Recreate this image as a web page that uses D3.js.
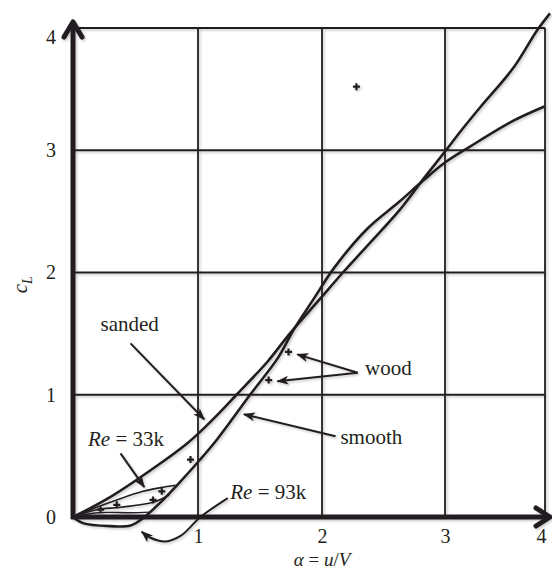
<!DOCTYPE html>
<html>
<head>
<meta charset="utf-8">
<script src="https://cdn.jsdelivr.net/npm/d3@7"></script>
<style>
  body { margin: 0; background: #fff; }
  text { font-family: "Liberation Serif", "DejaVu Serif", serif; fill: #231f20; }
</style>
</head>
<body>
<script>
// lift coefficient vs spin ratio
var sanded = [[0,0],[0.3,0.165],[0.7,0.44],[0.91,0.6],[1.0,0.68],[1.18,0.86],[1.31,1.0],
  [1.56,1.27],[1.74,1.50],[1.98,1.78],[2.17,2.0],[2.36,2.21],[2.63,2.51],[2.82,2.76],
  [3.0,2.99],[3.17,3.17],[3.35,3.35],[3.68,3.67],[3.92,3.98],[4.05,4.12]];
var smooth = [[0,0],[0.08,-0.05],[0.3,-0.075],[0.46,-0.07],[0.56,-0.01],[0.7,0.12],[0.85,0.28],
  [1.0,0.45],[1.15,0.63],[1.42,1.0],[1.65,1.31],[1.77,1.53],[1.93,1.78],[2.1,2.04],
  [2.37,2.36],[2.63,2.58],[2.82,2.75],[3.0,2.9],[3.25,3.03],[3.68,3.24],[4.0,3.36]];
var re33Upper = [[0,0],[0.19,0.08],[0.35,0.14],[0.56,0.21],[0.7,0.24],[0.82,0.26]];
var re33Lower = [[0,0],[0.19,0.06],[0.38,0.08],[0.64,0.12],[0.77,0.18]];
var nearAxis = [[0,0],[0.2,0.035],[0.45,0.035],[0.62,0.04]];
var points = [[0.22,0.06],[0.35,0.1],[0.64,0.14],[0.71,0.21],[0.94,0.47],[1.57,1.12],[1.73,1.35],[2.28,3.52]];

var xTicks = [1,2,3,4];
var yTicks = [0,1,2,3,4];

// annotations: text anchor and arrows in data units
var labels = [
  {t: "sanded", at: [0.22,1.52]},
  {t: "wood", at: [2.35,1.16]},
  {t: "smooth", at: [2.15,0.6]},
  {t: "Re", t2: " = 33k", at: [0.12,0.58]},
  {t: "Re", t2: " = 93k", at: [1.26,0.15]}
];
var arrows = [
  [[0.46,1.42],[1.05,0.8]],
  [[2.29,1.18],[1.8,1.33]],
  [[2.29,1.18],[1.64,1.11]],
  [[2.11,0.66],[1.37,0.84]],
  [[0.38,0.52],[0.57,0.245]]
];
var curvedArrow = [[1.24,0.155],[1.02,0],[0.86,-0.155],[0.74,-0.2],[0.62,-0.17],[0.55,-0.12]];

var width = 552, height = 570;
var ink = "#231f20";

var x = d3.scaleLinear().domain([0,1,2,3,4]).range([73,198,322,445,545]);
var y = d3.scaleLinear().domain([0,4]).range([517,28]);

var svg = d3.select("body").append("svg")
    .attr("width", width)
    .attr("height", height);

var defs = svg.append("defs");
defs.append("filter").attr("id", "shadow")
    .attr("x", "-10%").attr("y", "-10%").attr("width", "120%").attr("height", "120%")
  .append("feDropShadow")
    .attr("dx", 1.5).attr("dy", 1.5).attr("stdDeviation", 1.2)
    .attr("flood-color", "#000").attr("flood-opacity", 0.22);

defs.append("marker").attr("id", "barb")
    .attr("viewBox", "0 -5 12 10")
    .attr("refX", 11).attr("refY", 0)
    .attr("markerWidth", 12).attr("markerHeight", 10)
    .attr("markerUnits", "userSpaceOnUse")
    .attr("orient", "auto")
  .append("path")
    .attr("d", "M0,-4.5L12,0L0,4.5L3,0Z")
    .attr("fill", ink);

var g = svg.append("g").attr("filter", "url(#shadow)");

// grid
g.append("g").selectAll("line")
    .data(xTicks)
  .enter().append("line")
    .attr("x1", function(d) { return x(d); })
    .attr("x2", function(d) { return x(d); })
    .attr("y1", y(4))
    .attr("y2", y(0))
    .attr("stroke", ink)
    .attr("stroke-width", 1.8);

g.append("g").selectAll("line")
    .data(yTicks.slice(1))
  .enter().append("line")
    .attr("x1", x(0))
    .attr("x2", x(4))
    .attr("y1", function(d) { return y(d); })
    .attr("y2", function(d) { return y(d); })
    .attr("stroke", ink)
    .attr("stroke-width", 1.8);

// curves
var line = d3.line()
    .x(function(d) { return x(d[0]); })
    .y(function(d) { return y(d[1]); })
    .curve(d3.curveCatmullRom.alpha(0.5));

[[re33Upper, 1.6], [re33Lower, 1.6], [nearAxis, 1.4], [sanded, 2.6], [smooth, 2.6]].forEach(function(s) {
  g.append("path")
      .attr("d", line(s[0]))
      .attr("fill", "none")
      .attr("stroke", ink)
      .attr("stroke-width", s[1])
      .attr("stroke-linejoin", "round");
});

// axes (thick, with arrow heads)
g.append("line")
    .attr("x1", x(0)).attr("y1", y(0) + 2)
    .attr("x2", x(0)).attr("y2", 24)
    .attr("stroke", ink).attr("stroke-width", 5);
g.append("path")
    .attr("d", "M" + (x(0) - 9) + ",37L" + x(0) + ",22L" + (x(0) + 9) + ",37")
    .attr("fill", "none").attr("stroke", ink).attr("stroke-width", 5)
    .attr("stroke-linejoin", "round").attr("stroke-linecap", "round");
g.append("line")
    .attr("x1", x(0) - 2).attr("y1", y(0))
    .attr("x2", 548).attr("y2", y(0))
    .attr("stroke", ink).attr("stroke-width", 5);
g.append("path")
    .attr("d", "M536," + (y(0) - 9) + "L550," + y(0) + "L536," + (y(0) + 9))
    .attr("fill", "none").attr("stroke", ink).attr("stroke-width", 5)
    .attr("stroke-linejoin", "round").attr("stroke-linecap", "round");

// data points
g.append("g").selectAll("path")
    .data(points)
  .enter().append("path")
    .attr("transform", function(d) { return "translate(" + x(d[0]) + "," + y(d[1]) + ")"; })
    .attr("d", "M-3.5,0H3.5M0,-3.5V3.5")
    .attr("stroke", ink)
    .attr("stroke-width", 2.2);

// annotation arrows
g.append("g").selectAll("path")
    .data(arrows)
  .enter().append("path")
    .attr("d", function(d) { return d3.line().x(function(p) { return x(p[0]); }).y(function(p) { return y(p[1]); })(d); })
    .attr("fill", "none")
    .attr("stroke", ink)
    .attr("stroke-width", 2)
    .attr("marker-end", "url(#barb)");

g.append("path")
    .attr("d", line(curvedArrow))
    .attr("fill", "none")
    .attr("stroke", ink)
    .attr("stroke-width", 2)
    .attr("marker-end", "url(#barb)");

// annotation text
var lab = svg.append("g").selectAll("text")
    .data(labels)
  .enter().append("text")
    .attr("x", function(d) { return x(d.at[0]); })
    .attr("y", function(d) { return y(d.at[1]); })
    .style("font-size", "21px");
lab.append("tspan")
    .style("font-style", function(d) { return d.t2 ? "italic" : "normal"; })
    .text(function(d) { return d.t; });
lab.append("tspan")
    .text(function(d) { return d.t2 || ""; });

// tick labels
var yAxis = svg.append("g")
    .attr("transform", "translate(" + x(0) + ",0)")
    .call(d3.axisLeft(y).tickValues(yTicks).tickFormat(d3.format("d")).tickSize(0).tickPadding(17));
var xAxis = svg.append("g")
    .attr("transform", "translate(0," + y(0) + ")")
    .call(d3.axisBottom(x).tickValues(xTicks).tickFormat(d3.format("d")).tickSize(0).tickPadding(12));
[yAxis, xAxis].forEach(function(a) {
  a.select(".domain").remove();
  a.selectAll("text")
      .style("font-family", "'Liberation Serif', serif")
      .style("font-size", "20px")
      .attr("fill", ink);
});
yAxis.selectAll(".tick").filter(function(d) { return d === 4; })
    .select("text").attr("dy", "0.75em");
xAxis.selectAll(".tick").filter(function(d) { return d === 4; })
    .select("text").attr("dx", "-0.2em");

// axis titles
var yl = svg.append("text")
    .attr("transform", "translate(27," + y(1.9) + ") rotate(-90)")
    .attr("text-anchor", "middle")
    .style("font-size", "21px");
yl.append("tspan").style("font-style", "italic").text("c");
yl.append("tspan").attr("dy", 5).style("font-size", "14px").style("font-style", "italic").text("L");

var xl = svg.append("text")
    .attr("x", x(2))
    .attr("y", 566)
    .attr("text-anchor", "middle")
    .style("font-size", "19px");
xl.append("tspan").style("font-style", "italic").text("α");
xl.append("tspan").text(" = ");
xl.append("tspan").style("font-style", "italic").text("u");
xl.append("tspan").text("/");
xl.append("tspan").style("font-style", "italic").text("V");
</script>
</body>
</html>
